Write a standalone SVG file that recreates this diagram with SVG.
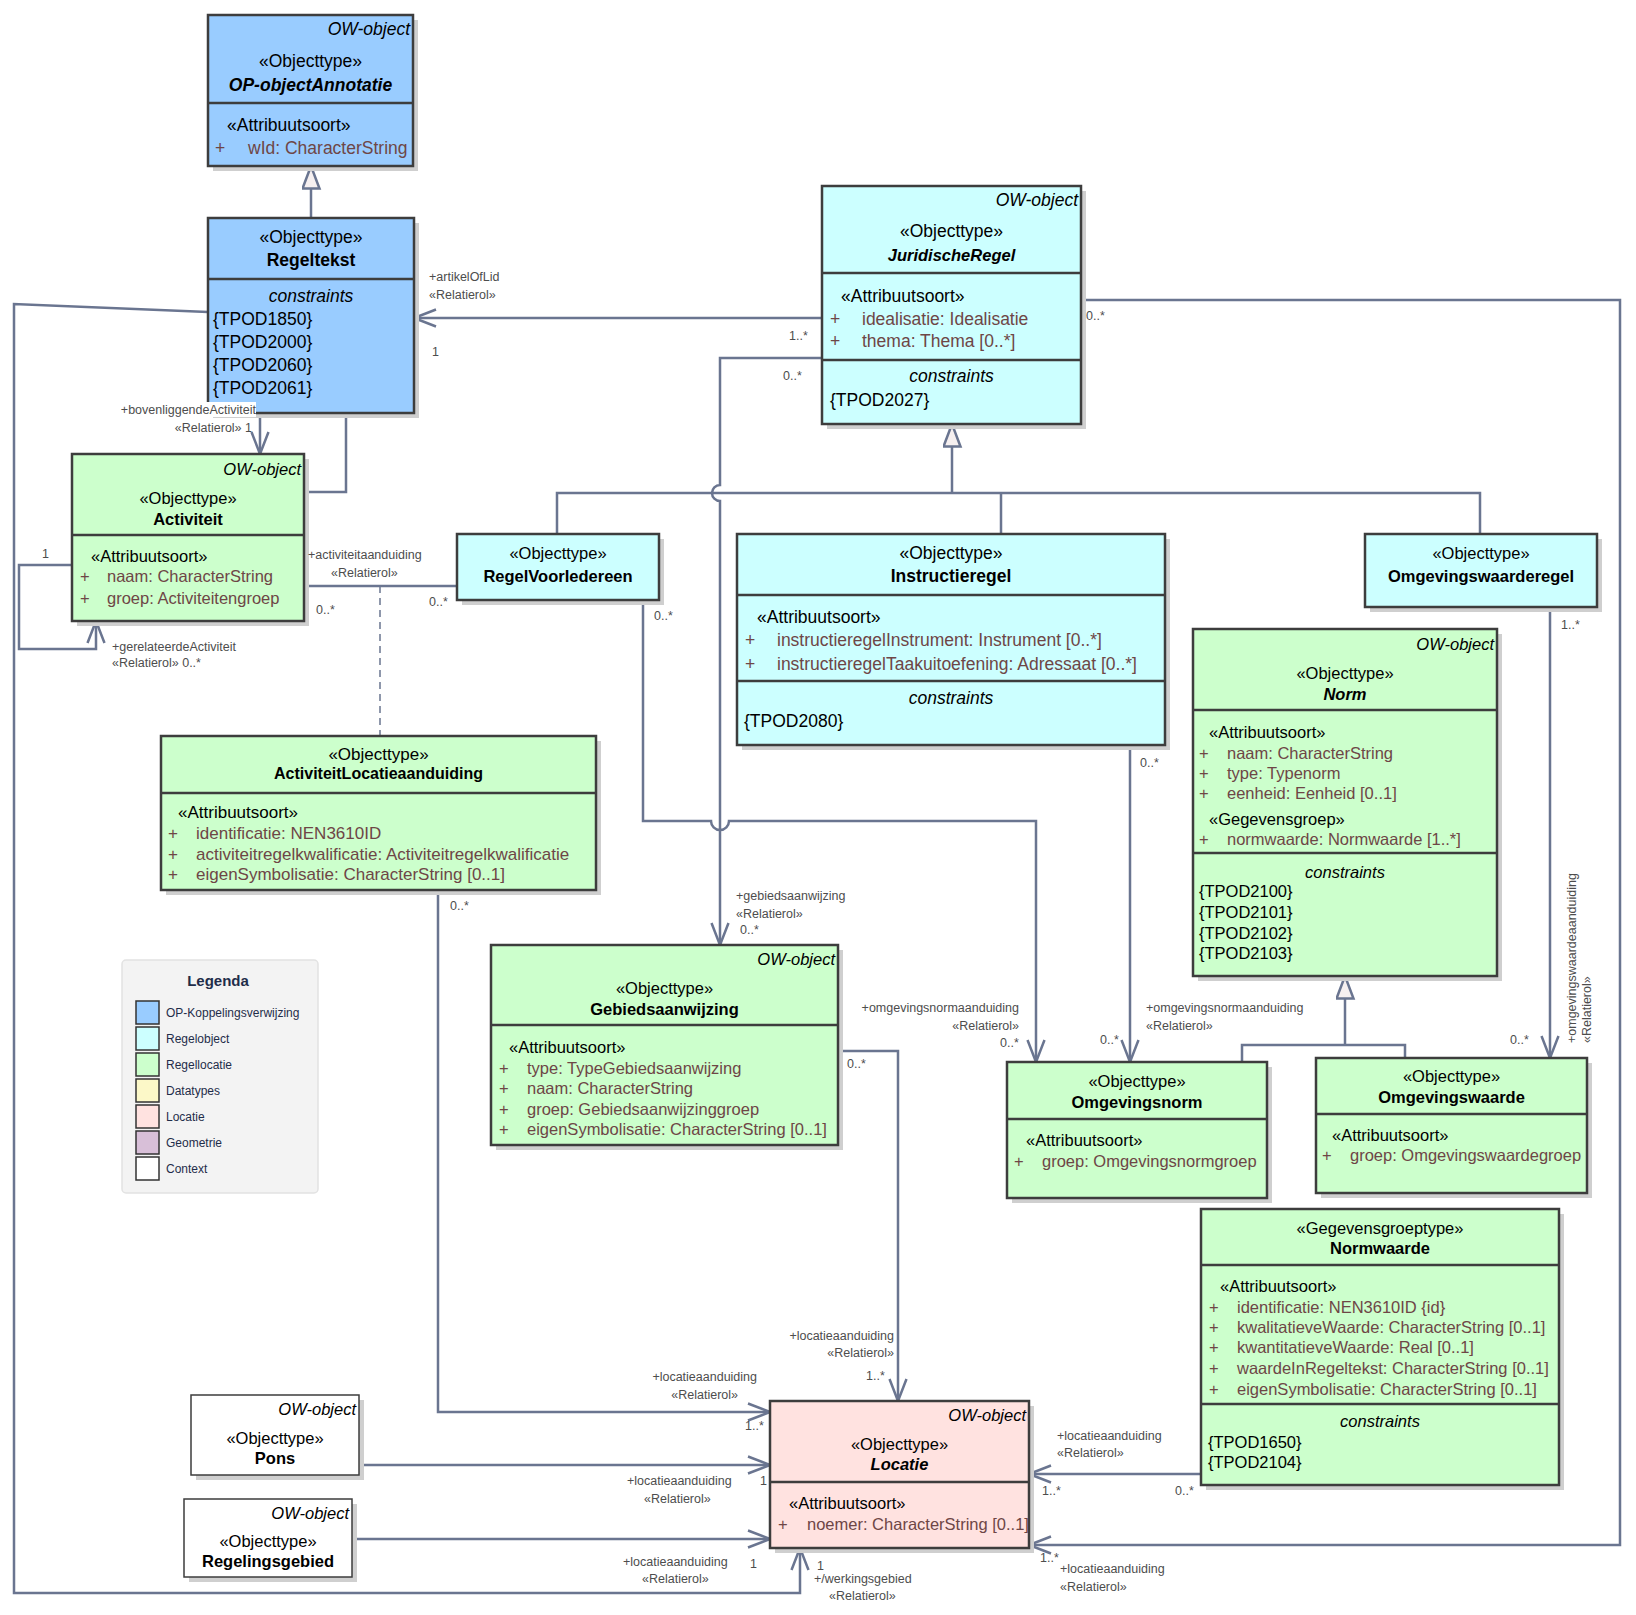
<svg xmlns="http://www.w3.org/2000/svg" width="1636" height="1615" viewBox="0 0 1636 1615">
<style>
text{font-family:"Liberation Sans",Arial,sans-serif;font-size:16.5px;fill:#000}
.big text{font-size:17.5px}
.mid text{font-size:17px}
.sh{fill:#cfcfcf}
.bx{stroke:#3d3d3d;stroke-width:2.5}
.dv{stroke:#3d3d3d;stroke-width:2.5}
.blue{fill:#99CCFF}.cyan{fill:#CCFFFF}.green{fill:#CCFFCC}.pink{fill:#FFE2E0}.white{fill:#FFFFFF}
.c{text-anchor:middle}
.b{font-weight:bold}
.bi{font-weight:bold;font-style:italic}
.i{font-style:italic}
.ow{font-style:italic;text-anchor:end}
.at{fill:#6e4646}
.lb{font-size:12.5px;fill:#4d4d4d}
.e{text-anchor:end}
.cn{fill:none;stroke:#6a7590;stroke-width:2.5}
.dash{fill:none;stroke:#6a7590;stroke-width:1.5;stroke-dasharray:7 5}
.lg{font-size:12px;fill:#1f2d4a}
.sw{stroke:#333;stroke-width:1.5}
</style>
<defs>
<marker id="arr" markerUnits="userSpaceOnUse" markerWidth="28" markerHeight="24" refX="23" refY="11" orient="auto">
<path d="M1,2.5 L23,11 L1,19.5" fill="none" stroke="#6a7590" stroke-width="2.5"/>
</marker>
<marker id="gen" markerUnits="userSpaceOnUse" markerWidth="28" markerHeight="22" refX="24" refY="9.5" orient="auto">
<path d="M1.5,1 L24,9.5 L1.5,18 Z" fill="#F6F0F0" stroke="#6a7590" stroke-width="2.5"/>
</marker>
</defs>

<g id="connectors">
<path class="cn" d="M311,218 V166" marker-end="url(#gen)"/>
<path class="cn" d="M952,493 V424" marker-end="url(#gen)"/>
<path class="cn" d="M557,534 V493 H1480 V534 M1001,493 V534"/>
<path class="cn" d="M1345,1045 V976" marker-end="url(#gen)"/>
<path class="cn" d="M1242,1062 V1045 H1405 V1058"/>
<path class="cn" d="M822,318 H414" marker-end="url(#arr)"/>
<path class="cn" d="M822,358 H720 V485 A8,8 0 0 0 720,501 V945" marker-end="url(#arr)"/>
<path class="cn" d="M1081,300 H1620 V1545 H1029" marker-end="url(#arr)"/>
<path class="cn" d="M1550,607 V1058" marker-end="url(#arr)"/>
<path class="cn" d="M1130,745 V1062" marker-end="url(#arr)"/>
<path class="cn" d="M643,600 V821 H711 A9,9 0 0 0 729,821 H1036 V1062" marker-end="url(#arr)"/>
<path class="cn" d="M304,492 H346 V409 H260 V454" marker-end="url(#arr)"/>
<path class="cn" d="M72,565 H19 V649 H96 V621" marker-end="url(#arr)"/>
<path class="cn" d="M304,586 H457"/>
<path class="dash" d="M380,586 V736"/>
<path class="cn" d="M438,890 V1412 H770" marker-end="url(#arr)"/>
<path class="cn" d="M359,1465 H770" marker-end="url(#arr)"/>
<path class="cn" d="M352,1539 H770" marker-end="url(#arr)"/>
<path class="cn" d="M208,312 L14,304 V1593 H800 V1548" marker-end="url(#arr)"/>
<path class="cn" d="M838,1051 H898 V1401" marker-end="url(#arr)"/>
<path class="cn" d="M1201,1474 H1029" marker-end="url(#arr)"/>
</g>

<g id="node-opobjectannotatie" class="big">
<rect class="sh" x="213" y="20" width="205" height="151"/>
<rect class="bx blue" x="208" y="15" width="205" height="151"/>
<line class="dv" x1="208" y1="103" x2="413" y2="103"/>
<text class="ow" x="410" y="35">OW-object</text>
<text class="c" x="310.5" y="67">«Objecttype»</text>
<text class="c bi" x="310.5" y="91">OP-objectAnnotatie</text>
<text x="227" y="131">«Attribuutsoort»</text>
<text class="at" x="215" y="154">+</text>
<text class="at" x="248" y="154">wId: CharacterString</text>
</g>

<g id="node-regeltekst" class="big">
<rect class="sh" x="213" y="223" width="206" height="195"/>
<rect class="bx blue" x="208" y="218" width="206" height="195"/>
<line class="dv" x1="208" y1="279" x2="414" y2="279"/>
<text class="c" x="311" y="243">«Objecttype»</text>
<text class="c b" x="311" y="266">Regeltekst</text>
<text class="c i" x="311" y="302">constraints</text>
<text x="213" y="325">{TPOD1850}</text>
<text x="213" y="348">{TPOD2000}</text>
<text x="213" y="371">{TPOD2060}</text>
<text x="213" y="394">{TPOD2061}</text>
</g>

<g id="node-juridischeregel" class="big">
<rect class="sh" x="827" y="191" width="259" height="238"/>
<rect class="bx cyan" x="822" y="186" width="259" height="238"/>
<line class="dv" x1="822" y1="273" x2="1081" y2="273"/>
<line class="dv" x1="822" y1="360" x2="1081" y2="360"/>
<text class="ow" x="1078" y="206">OW-object</text>
<text class="c" x="951.5" y="237">«Objecttype»</text>
<text class="c bi" x="951.5" y="261" style="font-size:16.5px">JuridischeRegel</text>
<text x="841" y="302">«Attribuutsoort»</text>
<text class="at" x="830" y="325">+</text>
<text class="at" x="862" y="325">idealisatie: Idealisatie</text>
<text class="at" x="830" y="347">+</text>
<text class="at" x="862" y="347">thema: Thema [0..*]</text>
<text class="c i" x="951.5" y="382">constraints</text>
<text x="830" y="406">{TPOD2027}</text>
</g>

<g id="node-activiteit">
<rect class="sh" x="77" y="459" width="232" height="167"/>
<rect class="bx green" x="72" y="454" width="232" height="167"/>
<line class="dv" x1="72" y1="535" x2="304" y2="535"/>
<text class="ow" x="301" y="475">OW-object</text>
<text class="c" x="188" y="504">«Objecttype»</text>
<text class="c b" x="188" y="525">Activiteit</text>
<text x="91" y="562">«Attribuutsoort»</text>
<text class="at" x="80" y="582">+</text>
<text class="at" x="107" y="582">naam: CharacterString</text>
<text class="at" x="80" y="604">+</text>
<text class="at" x="107" y="604">groep: Activiteitengroep</text>
</g>

<g id="node-regelvooriedereen">
<rect class="sh" x="462" y="539" width="202" height="66"/>
<rect class="bx cyan" x="457" y="534" width="202" height="66"/>
<text class="c" x="558" y="559">«Objecttype»</text>
<text class="c b" x="558" y="582">RegelVoorIedereen</text>
</g>

<g id="node-instructieregel" class="big">
<rect class="sh" x="742" y="539" width="428" height="211"/>
<rect class="bx cyan" x="737" y="534" width="428" height="211"/>
<line class="dv" x1="737" y1="595" x2="1165" y2="595"/>
<line class="dv" x1="737" y1="681" x2="1165" y2="681"/>
<text class="c" x="951" y="559">«Objecttype»</text>
<text class="c b" x="951" y="582">Instructieregel</text>
<text x="757" y="623">«Attribuutsoort»</text>
<text class="at" x="745" y="646">+</text>
<text class="at" x="777" y="646">instructieregelInstrument: Instrument [0..*]</text>
<text class="at" x="745" y="670">+</text>
<text class="at" x="777" y="670">instructieregelTaakuitoefening: Adressaat [0..*]</text>
<text class="c i" x="951" y="704">constraints</text>
<text x="744" y="727">{TPOD2080}</text>
</g>

<g id="node-omgevingswaarderegel">
<rect class="sh" x="1370" y="539" width="232" height="73"/>
<rect class="bx cyan" x="1365" y="534" width="232" height="73"/>
<text class="c" x="1481" y="559">«Objecttype»</text>
<text class="c b" x="1481" y="582">Omgevingswaarderegel</text>
</g>

<g id="node-norm">
<rect class="sh" x="1198" y="634" width="304" height="347"/>
<rect class="bx green" x="1193" y="629" width="304" height="347"/>
<line class="dv" x1="1193" y1="710" x2="1497" y2="710"/>
<line class="dv" x1="1193" y1="853" x2="1497" y2="853"/>
<text class="ow" x="1494" y="650">OW-object</text>
<text class="c" x="1345" y="679">«Objecttype»</text>
<text class="c bi" x="1345" y="700">Norm</text>
<text x="1209" y="738">«Attribuutsoort»</text>
<text class="at" x="1199" y="759">+</text>
<text class="at" x="1227" y="759">naam: CharacterString</text>
<text class="at" x="1199" y="779">+</text>
<text class="at" x="1227" y="779">type: Typenorm</text>
<text class="at" x="1199" y="799">+</text>
<text class="at" x="1227" y="799">eenheid: Eenheid [0..1]</text>
<text x="1209" y="825">«Gegevensgroep»</text>
<text class="at" x="1199" y="845">+</text>
<text class="at" x="1227" y="845">normwaarde: Normwaarde [1..*]</text>
<text class="c i" x="1345" y="878">constraints</text>
<text x="1199" y="897">{TPOD2100}</text>
<text x="1199" y="918">{TPOD2101}</text>
<text x="1199" y="939">{TPOD2102}</text>
<text x="1199" y="959">{TPOD2103}</text>
</g>

<g id="node-activiteitlocatieaanduiding" class="mid">
<rect class="sh" x="166" y="741" width="435" height="154"/>
<rect class="bx green" x="161" y="736" width="435" height="154"/>
<line class="dv" x1="161" y1="793" x2="596" y2="793"/>
<text class="c" x="378.5" y="760">«Objecttype»</text>
<text class="c b" x="378.5" y="779" style="font-size:16px">ActiviteitLocatieaanduiding</text>
<text x="178" y="818">«Attribuutsoort»</text>
<text class="at" x="168" y="839">+</text>
<text class="at" x="196" y="839">identificatie: NEN3610ID</text>
<text class="at" x="168" y="860">+</text>
<text class="at" x="196" y="860">activiteitregelkwalificatie: Activiteitregelkwalificatie</text>
<text class="at" x="168" y="880">+</text>
<text class="at" x="196" y="880">eigenSymbolisatie: CharacterString [0..1]</text>
</g>

<g id="legenda">
<rect x="122" y="960" width="196" height="233" rx="4" fill="#F3F3F3" stroke="#E2E2E2" stroke-width="1.5"/>
<text class="c b" x="218" y="986" style="font-size:15px;fill:#1f2d4a">Legenda</text>
<rect class="sw blue" x="136" y="1001" width="23" height="23"/>
<text class="lg" x="166" y="1017">OP-Koppelingsverwijzing</text>
<rect class="sw cyan" x="136" y="1027" width="23" height="23"/>
<text class="lg" x="166" y="1043">Regelobject</text>
<rect class="sw green" x="136" y="1053" width="23" height="23"/>
<text class="lg" x="166" y="1069">Regellocatie</text>
<rect class="sw" fill="#FCF8C8" x="136" y="1079" width="23" height="23"/>
<text class="lg" x="166" y="1095">Datatypes</text>
<rect class="sw pink" x="136" y="1105" width="23" height="23"/>
<text class="lg" x="166" y="1121">Locatie</text>
<rect class="sw" fill="#D8BFD8" x="136" y="1131" width="23" height="23"/>
<text class="lg" x="166" y="1147">Geometrie</text>
<rect class="sw white" x="136" y="1157" width="23" height="23"/>
<text class="lg" x="166" y="1173">Context</text>
</g>

<g id="node-gebiedsaanwijzing">
<rect class="sh" x="496" y="950" width="347" height="200"/>
<rect class="bx green" x="491" y="945" width="347" height="200"/>
<line class="dv" x1="491" y1="1025" x2="838" y2="1025"/>
<text class="ow" x="835" y="965">OW-object</text>
<text class="c" x="664.5" y="994">«Objecttype»</text>
<text class="c b" x="664.5" y="1015">Gebiedsaanwijzing</text>
<text x="509" y="1053">«Attribuutsoort»</text>
<text class="at" x="499" y="1074">+</text>
<text class="at" x="527" y="1074">type: TypeGebiedsaanwijzing</text>
<text class="at" x="499" y="1094">+</text>
<text class="at" x="527" y="1094">naam: CharacterString</text>
<text class="at" x="499" y="1115">+</text>
<text class="at" x="527" y="1115">groep: Gebiedsaanwijzinggroep</text>
<text class="at" x="499" y="1135">+</text>
<text class="at" x="527" y="1135">eigenSymbolisatie: CharacterString [0..1]</text>
</g>

<g id="node-omgevingsnorm">
<rect class="sh" x="1012" y="1067" width="260" height="136"/>
<rect class="bx green" x="1007" y="1062" width="260" height="136"/>
<line class="dv" x1="1007" y1="1119" x2="1267" y2="1119"/>
<text class="c" x="1137" y="1087">«Objecttype»</text>
<text class="c b" x="1137" y="1108">Omgevingsnorm</text>
<text x="1026" y="1146">«Attribuutsoort»</text>
<text class="at" x="1014" y="1167">+</text>
<text class="at" x="1042" y="1167">groep: Omgevingsnormgroep</text>
</g>

<g id="node-omgevingswaarde">
<rect class="sh" x="1321" y="1063" width="271" height="135"/>
<rect class="bx green" x="1316" y="1058" width="271" height="135"/>
<line class="dv" x1="1316" y1="1114" x2="1587" y2="1114"/>
<text class="c" x="1451.5" y="1082">«Objecttype»</text>
<text class="c b" x="1451.5" y="1103">Omgevingswaarde</text>
<text x="1332" y="1141">«Attribuutsoort»</text>
<text class="at" x="1322" y="1161">+</text>
<text class="at" x="1350" y="1161">groep: Omgevingswaardegroep</text>
</g>

<g id="node-normwaarde">
<rect class="sh" x="1206" y="1214" width="358" height="276"/>
<rect class="bx green" x="1201" y="1209" width="358" height="276"/>
<line class="dv" x1="1201" y1="1265" x2="1559" y2="1265"/>
<line class="dv" x1="1201" y1="1404" x2="1559" y2="1404"/>
<text class="c" x="1380" y="1234">«Gegevensgroeptype»</text>
<text class="c b" x="1380" y="1254">Normwaarde</text>
<text x="1220" y="1292">«Attribuutsoort»</text>
<text class="at" x="1209" y="1313">+</text>
<text class="at" x="1237" y="1313">identificatie: NEN3610ID {id}</text>
<text class="at" x="1209" y="1333">+</text>
<text class="at" x="1237" y="1333">kwalitatieveWaarde: CharacterString [0..1]</text>
<text class="at" x="1209" y="1353">+</text>
<text class="at" x="1237" y="1353">kwantitatieveWaarde: Real [0..1]</text>
<text class="at" x="1209" y="1374">+</text>
<text class="at" x="1237" y="1374">waardeInRegeltekst: CharacterString [0..1]</text>
<text class="at" x="1209" y="1395">+</text>
<text class="at" x="1237" y="1395">eigenSymbolisatie: CharacterString [0..1]</text>
<text class="c i" x="1380" y="1427">constraints</text>
<text x="1208" y="1448">{TPOD1650}</text>
<text x="1208" y="1468">{TPOD2104}</text>
</g>

<g id="node-pons">
<rect class="sh" x="196" y="1400" width="168" height="80"/>
<rect class="bx white" x="191" y="1395" width="168" height="80" style="stroke-width:1.5"/>
<text class="ow" x="356" y="1415">OW-object</text>
<text class="c" x="275" y="1444">«Objecttype»</text>
<text class="c b" x="275" y="1464">Pons</text>
</g>

<g id="node-regelingsgebied">
<rect class="sh" x="189" y="1504" width="168" height="78"/>
<rect class="bx white" x="184" y="1499" width="168" height="78" style="stroke-width:1.5"/>
<text class="ow" x="349" y="1519">OW-object</text>
<text class="c" x="268" y="1547">«Objecttype»</text>
<text class="c b" x="268" y="1567">Regelingsgebied</text>
</g>

<g id="node-locatie">
<rect class="sh" x="775" y="1406" width="259" height="147"/>
<rect class="bx pink" x="770" y="1401" width="259" height="147"/>
<line class="dv" x1="770" y1="1482" x2="1029" y2="1482"/>
<text class="ow" x="1026" y="1421">OW-object</text>
<text class="c" x="899.5" y="1450">«Objecttype»</text>
<text class="c bi" x="899.5" y="1470">Locatie</text>
<text x="789" y="1509">«Attribuutsoort»</text>
<text class="at" x="778" y="1530">+</text>
<text class="at" x="807" y="1530">noemer: CharacterString [0..1]</text>
</g>

<g id="connector-labels">
<text class="lb" x="429" y="281">+artikelOfLid</text>
<text class="lb" x="429" y="299">«Relatierol»</text>
<text class="lb" x="432" y="356">1</text>
<text class="lb" x="789" y="340">1..*</text>
<text class="lb" x="783" y="380">0..*</text>
<text class="lb" x="736" y="900">+gebiedsaanwijzing</text>
<text class="lb" x="736" y="918">«Relatierol»</text>
<text class="lb" x="740" y="934">0..*</text>
<text class="lb" x="1086" y="320">0..*</text>
<text class="lb" x="1040" y="1562">1..*</text>
<text class="lb" x="1060" y="1573">+locatieaanduiding</text>
<text class="lb" x="1060" y="1591">«Relatierol»</text>
<rect x="114" y="402" width="142" height="15" fill="#FFFFFF"/>
<text class="lb e" x="256" y="414">+bovenliggendeActiviteit</text>
<text class="lb e" x="252" y="432">«Relatierol» 1</text>
<text class="lb" x="112" y="651">+gerelateerdeActiviteit</text>
<text class="lb" x="112" y="667">«Relatierol» 0..*</text>
<text class="lb" x="42" y="558">1</text>
<text class="lb" x="308" y="559">+activiteitaanduiding</text>
<text class="lb" x="331" y="577">«Relatierol»</text>
<text class="lb" x="316" y="614">0..*</text>
<text class="lb" x="429" y="606">0..*</text>
<text class="lb" x="654" y="620">0..*</text>
<text class="lb e" x="1019" y="1012">+omgevingsnormaanduiding</text>
<text class="lb e" x="1019" y="1030">«Relatierol»</text>
<text class="lb" x="1000" y="1047">0..*</text>
<text class="lb" x="1140" y="767">0..*</text>
<text class="lb" x="1146" y="1012">+omgevingsnormaanduiding</text>
<text class="lb" x="1146" y="1030">«Relatierol»</text>
<text class="lb" x="1100" y="1044">0..*</text>
<text class="lb" x="1561" y="629">1..*</text>
<text class="lb" x="1510" y="1044">0..*</text>
<text class="lb" transform="translate(1576,1043) rotate(-90)">+omgevingswaardeaanduiding</text>
<text class="lb" transform="translate(1591,1043) rotate(-90)">«Relatierol»</text>
<text class="lb" x="847" y="1068">0..*</text>
<text class="lb e" x="894" y="1340">+locatieaanduiding</text>
<text class="lb e" x="894" y="1357">«Relatierol»</text>
<text class="lb" x="866" y="1380">1..*</text>
<text class="lb" x="450" y="910">0..*</text>
<text class="lb e" x="757" y="1381">+locatieaanduiding</text>
<text class="lb e" x="738" y="1399">«Relatierol»</text>
<text class="lb" x="745" y="1430">1..*</text>
<text class="lb" x="627" y="1485">+locatieaanduiding</text>
<text class="lb" x="644" y="1503">«Relatierol»</text>
<text class="lb" x="760" y="1485">1</text>
<text class="lb" x="623" y="1566">+locatieaanduiding</text>
<text class="lb" x="642" y="1583">«Relatierol»</text>
<text class="lb" x="750" y="1568">1</text>
<text class="lb" x="817" y="1570">1</text>
<text class="lb" x="814" y="1583">+/werkingsgebied</text>
<text class="lb" x="829" y="1600">«Relatierol»</text>
<text class="lb" x="1057" y="1440">+locatieaanduiding</text>
<text class="lb" x="1057" y="1457">«Relatierol»</text>
<text class="lb" x="1042" y="1495">1..*</text>
<text class="lb" x="1175" y="1495">0..*</text>
</g>
</svg>
